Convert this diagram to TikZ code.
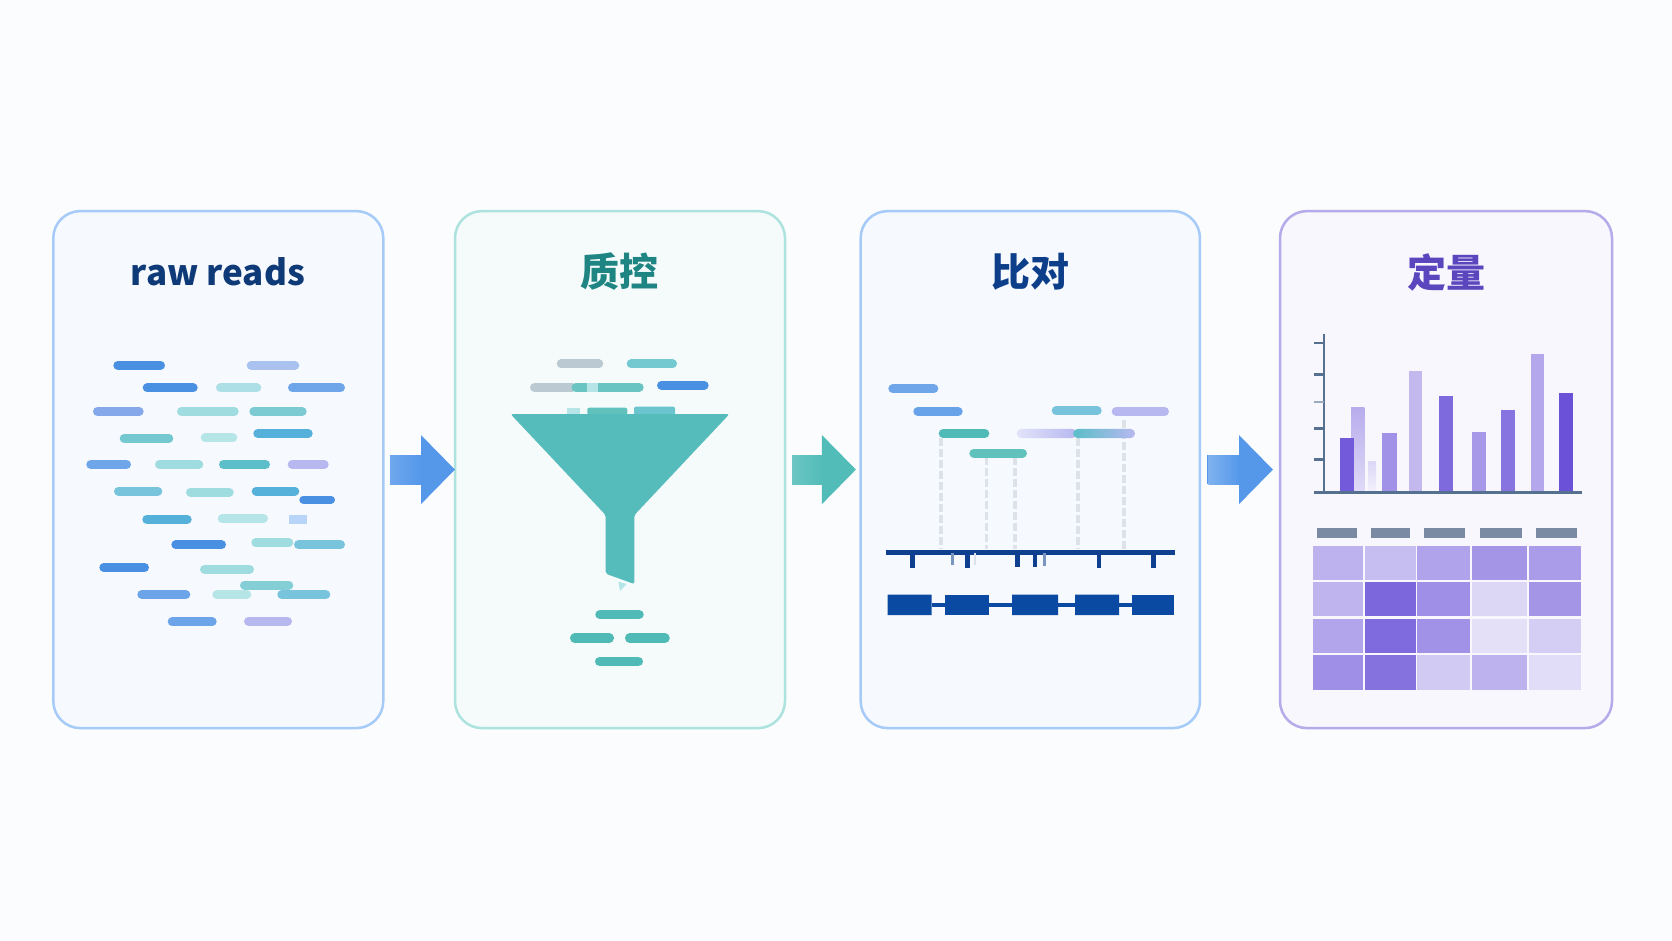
\documentclass[tikz,border=0pt]{standalone}
\usepackage{fontspec}
\setmainfont{Noto Sans}
\newfontfamily\cjk{Noto Sans CJK SC}
\usetikzlibrary{arrows.meta,shapes.misc}
\newlength{\du}
\setlength{\du}{0.5pt}
\definecolor{pagecolor}{HTML}{FBFCFE}
\definecolor{cardblue}{HTML}{F6F9FE}
\definecolor{cardteal}{HTML}{F5FBFB}
\definecolor{cardlilac}{HTML}{F8F7FE}
\definecolor{edgeblue}{HTML}{A6CBF8}
\definecolor{edgeteal}{HTML}{ACE3DF}
\definecolor{edgelilac}{HTML}{B6ABEA}
\definecolor{navytext}{HTML}{0F3A78}
\definecolor{tealtext}{HTML}{1F8583}
\definecolor{royaltext}{HTML}{0D3E8A}
\definecolor{lilactext}{HTML}{5B46BE}
\definecolor{chartlilac}{HTML}{6248D6}
\definecolor{arrowblue}{HTML}{5598EA}
\definecolor{arrowteal}{HTML}{52BCB8}
\definecolor{readblue}{HTML}{4A90E2}
\definecolor{readmid}{HTML}{6FA6EA}
\definecolor{readperi}{HTML}{85A8EA}
\definecolor{readsky}{HTML}{55B0DA}
\definecolor{readcyan}{HTML}{78C4DC}
\definecolor{readteal}{HTML}{5BBEC8}
\definecolor{readaqua}{HTML}{9EDCE0}
\definecolor{readpale}{HTML}{B6E5E8}
\definecolor{readlilac}{HTML}{B7B8F0}
\definecolor{readgrey}{HTML}{BBCAD2}
\definecolor{funnelteal}{HTML}{55BCBB}
\definecolor{keptteal}{HTML}{50BAB6}
\definecolor{guidegrey}{HTML}{DDE1E8}
\definecolor{refnavy}{HTML}{0F3F8F}
\definecolor{exonblue}{HTML}{0A4AA3}
\definecolor{axisslate}{HTML}{56708F}
\definecolor{headslate}{HTML}{7A8AA2}
\tikzset{
  cardbox/.style={rectangle,rounded corners=27\du,line width=2.5\du,inner sep=0pt,outer sep=0pt,minimum width=330\du,minimum height=517\du},
  cardtitle/.style={font=\cjk\fontsize{19.5pt}{24pt}\selectfont\bfseries,inner sep=0pt},
  flowarrow/.style={line width=14.5pt,-{Triangle[length=17pt,width=33.5pt]},shorten <=3.5pt},
  readbar/.style={line width=9\du,line cap=round},
  keptbar/.style={line width=9.5\du,line cap=round,keptteal},
  guideline/.style={line width=3.5\du,guidegrey,dash pattern=on 8\du off 3\du},
  reftick/.style={line width=4.5\du,refnavy},
  exonbox/.style={rectangle,fill=exonblue,inner sep=0pt,outer sep=0pt,minimum height=20.4\du},
  exonchamf/.style={chamfered rectangle,chamfered rectangle corners={north east,south east},chamfered rectangle xsep=2\du,chamfered rectangle ysep=5\du,fill=exonblue,inner sep=0pt,outer sep=0pt,minimum height=20.4\du},
  intronline/.style={line width=4\du,exonblue},
  axisline/.style={line width=2.5\du,axisslate},
  colhead/.style={fill=headslate}
}
\begin{document}
\begin{tikzpicture}[x=\du,y=-\du]
\useasboundingbox (0,0) rectangle (1672,941);
\fill[pagecolor] (0,0) rectangle (1672,941);
% cards
\node[cardbox,draw=edgeblue,fill=cardblue] (rawcard) at (218.3,469.6) {};
\node[cardbox,draw=edgeteal,fill=cardteal] (qccard) at (620,469.6) {};
\node[cardbox,draw=edgeblue,fill=cardblue,minimum width=339.3\du] (aligncard) at (1030.3,469.6) {};
\node[cardbox,draw=edgelilac,fill=cardlilac,minimum width=332\du] (quantcard) at (1446,469.6) {};
\node[cardtitle,navytext,font=\cjk\fontsize{17.5pt}{22pt}\selectfont\bfseries] (rawtitle) at (218,272) {raw reads};
\node[cardtitle,tealtext] (qctitle) at (619.3,272) {质控};
\node[cardtitle,royaltext] (aligntitle) at (1030.7,272) {比对};
\node[cardtitle,lilactext] (quanttitle) at (1446.7,272) {定量};
% arrows
\draw[flowarrow,arrowblue] (rawcard.east) -- (qccard.west);
\shade[left color=arrowblue!85!white,right color=arrowblue] (390,455.1) rectangle (421,484.1);
\draw[flowarrow,arrowteal,shorten >=2.35pt] (qccard.east) -- (aligncard.west);
\shade[left color=arrowteal!85!white,right color=arrowteal] (792,455.1) rectangle (823,484.1);
\draw[flowarrow,arrowblue,shorten >=3.5pt] (aligncard.east) -- (quantcard.west);
\shade[left color=arrowblue!75!white,right color=arrowblue] (1208.3,455.1) rectangle (1239.3,484.1);
% raw reads
\draw[readbar,readblue] (117.8,365.3)--(160.5,365.3);
\draw[readbar,readperi!70!white] (251.2,365.3)--(294.8,365.3);
\draw[readbar,readblue] (147.2,388)--(193.2,388);
\draw[readbar,readpale!85!readcyan] (220.5,388)--(256.8,388);
\draw[readbar,readmid] (292.5,388)--(340.5,388);
\draw[readbar,readperi] (97.5,411.5)--(139.2,411.5);
\draw[readbar,readaqua] (181.5,411.5)--(234.2,411.5);
\draw[readbar,readteal!80!white] (253.8,411.5)--(302.2,411.5);
\draw[readbar,readteal!85!white] (124.2,438.4)--(168.8,438.4);
\draw[readbar,readpale] (205.2,437.6)--(232.8,437.6);
\draw[readbar,readsky] (257.8,433.5)--(308.2,433.5);
\draw[readbar,readmid] (90.8,464.5)--(126.5,464.5);
\draw[readbar,readaqua] (159.5,464.5)--(198.8,464.5);
\draw[readbar,readteal] (223.5,464.5)--(265.5,464.5);
\draw[readbar,readlilac] (292.2,464.5)--(324.2,464.5);
\draw[readbar,readcyan] (118.5,491)--(157.8,491);
\draw[readbar,readaqua] (190.5,492.1)--(229.2,492.1);
\draw[readbar,readsky] (256.2,491)--(294.8,491);
\draw[readbar,readblue,line width=8\du] (303.3,499.6)--(331,499.6);
\draw[readbar,readsky] (146.8,519.3)--(187.2,519.3);
\draw[readbar,readpale] (222.2,518.5)--(263.5,518.5);
\draw[readbar,edgeblue!80!white,line cap=butt] (289.3,519.3)--(306.7,519.3);
\draw[readbar,readblue] (175.8,544.8)--(221.5,544.8);
\draw[readbar,readaqua] (255.8,542.7)--(288.8,542.7);
\draw[readbar,readcyan] (298.5,544.8)--(340.5,544.8);
\draw[readbar,readblue] (103.8,567.5)--(144.5,567.5);
\draw[readbar,readaqua] (204.5,569.2)--(249.5,569.2);
\draw[readbar,readteal!75!white] (244.5,585.1)--(288.8,585.1);
\draw[readbar,readmid!90!readblue] (141.8,594.7)--(185.8,594.7);
\draw[readbar,readpale] (216.8,594.7)--(246.8,594.7);
\draw[readbar,readcyan] (281.8,594.7)--(325.8,594.7);
\draw[readbar,readmid!90!readblue] (172.2,621.8)--(212.2,621.8);
\draw[readbar,readlilac] (248.5,621.2)--(287.5,621.2);
% funnel
\draw[readbar,readgrey] (561.2,364)--(598.8,364);
\draw[readbar,readteal!85!white] (631.2,364)--(672.5,364);
\draw[readbar,readgrey] (534.5,387.3)--(572.2,387.3);
\draw[readbar,keptteal!85!white] (576,387.3)--(639.2,387.3);
\fill[readpale] (587.3,382.9) rectangle (598.3,392.2);
\draw[readbar,readblue] (661.5,385.3)--(704.2,385.3);
\fill[readpale] (567.3,408.2) rectangle (580,414.9);
\fill[keptteal!90!white,rounded corners=2\du] (587.3,407.7) rectangle (627.3,414.9);
\fill[readteal!90!white,rounded corners=2\du] (634,406.6) rectangle (675,414.9);
\fill[readpale] (618.3,581.6) -- (620,590.9) -- (626.7,584) -- cycle;
\fill[funnelteal,rounded corners=2\du] (510.7,414.2) -- (729.3,414.2) -- (634.3,515.1) -- (634.3,584) -- (605.7,573.7) -- (605.7,515.1) -- cycle;
\draw[keptbar] (600,614.6)--(639,614.6);
\draw[keptbar] (574.7,638.1)--(609.3,638.1);
\draw[keptbar] (629.7,638.1)--(665,638.1);
\draw[keptbar] (599.7,661.5)--(638.3,661.5);
% alignment
\draw[guideline] (941,437.6)--(941,549.2);
\draw[guideline] (986.3,457.3)--(986.3,549.2);
\draw[guideline] (1015,457.3)--(1015,549.2);
\draw[guideline] (1078,437.6)--(1078,549.2);
\draw[guideline] (1124,420.1)--(1124,549.2);
\draw[readbar,readmid] (892.8,388.8)--(933.8,388.8);
\draw[readbar,readmid!80!readblue] (917.8,411.5)--(958.2,411.5);
\draw[readbar,readcyan] (1056.2,410.8)--(1097.2,410.8);
\draw[readbar,readlilac] (1116.2,411.5)--(1164.5,411.5);
\draw[readbar,keptteal] (943.2,433.5)--(984.8,433.5);
\shade[rounded corners=4.5\du,left color=readlilac!40!white,right color=readlilac] (1016.7,428.9) rectangle (1076.7,438.1);
\shade[rounded corners=4.5\du,left color=readteal,right color=readlilac] (1073.3,428.9) rectangle (1135,438.1);
\draw[readbar,keptteal!90!white] (973.8,453.1)--(1022.5,453.1);
\draw[line width=5\du,refnavy] (886,552.6)--(1174.7,552.6);
\draw[reftick] (912.7,552.6)--(912.7,567.5);
\draw[reftick,line width=3\du,refnavy!55!white] (952.7,552.6)--(952.7,565);
\draw[reftick] (967.3,552.6)--(967.3,567.5);
\draw[reftick,line width=2\du,refnavy!15!white] (975,552.6)--(975,565);
\draw[reftick] (1017.3,552.6)--(1017.3,566.8);
\draw[reftick] (1035,552.6)--(1035,566.8);
\draw[reftick,line width=3\du,refnavy!55!white] (1044,552.6)--(1044,565.8);
\draw[reftick] (1099,552.6)--(1099,567.5);
\draw[reftick] (1153.3,552.6)--(1153.3,567.5);
\node[exonchamf,minimum width=44\du] (exona) at (909.7,604.8) {};
\node[exonbox,minimum width=43.4\du] (exonb) at (967,604.8) {};
\node[exonchamf,minimum width=46\du] (exonc) at (1035,604.8) {};
\node[exonchamf,minimum width=44\du] (exond) at (1097,604.8) {};
\node[exonbox,minimum width=41.7\du] (exone) at (1153.2,604.8) {};
\draw[intronline] (exona) -- (exonb);
\draw[intronline] (exonb) -- (exonc);
\draw[intronline] (exonc) -- (exond);
\draw[intronline] (exond) -- (exone);
% bar chart
\shade[top color=chartlilac!45!white,bottom color=chartlilac!20!white] (1351,407.7) rectangle (1364.3,492.1);
\fill[chartlilac!90!white] (1340,438.4) rectangle (1354,492.1);
\shade[top color=chartlilac!22!white,bottom color=chartlilac!8!white] (1368.3,461.1) rectangle (1376,492.1);
\fill[chartlilac!60!white] (1382,432.8) rectangle (1396.7,492.1);
\fill[chartlilac!38!white] (1408.7,371.5) rectangle (1422.3,492.1);
\fill[chartlilac!82!white] (1439.3,395.6) rectangle (1453,492.1);
\fill[chartlilac!56!white] (1472,431.7) rectangle (1485.7,492.1);
\fill[chartlilac!76!white] (1501.3,410.1) rectangle (1515.3,492.1);
\fill[chartlilac!48!white] (1530.7,353.6) rectangle (1544,492.1);
\fill[chartlilac!95!white] (1559.3,393.5) rectangle (1572.7,492.1);
\draw[axisline] (1324,333.6)--(1324,492.7);
\draw[axisline] (1314,492.7)--(1582.3,492.7);
\draw[axisline] (1314,342.9)--(1324,342.9);
\draw[axisline] (1314,374.6)--(1324,374.6);
\draw[axisline,axisslate!60!white] (1314,402.2)--(1324,402.2);
\draw[axisline] (1314,428.6)--(1324,428.6);
\draw[axisline] (1314,459.3)--(1324,459.3);
% heat map
\fill[colhead] (1316.7,527.5) rectangle (1357.3,537.8);
\fill[colhead] (1370.7,527.5) rectangle (1410,537.8);
\fill[colhead] (1424.3,527.5) rectangle (1465,537.8);
\fill[colhead] (1480,527.5) rectangle (1521.7,537.8);
\fill[colhead] (1536.3,527.5) rectangle (1576.7,537.8);
\fill[chartlilac!42!white] (1312.7,546.1) rectangle (1363,580.2);
\fill[chartlilac!36!white] (1365,546.1) rectangle (1415.7,580.2);
\fill[chartlilac!50!white] (1417.3,546.1) rectangle (1470,580.2);
\fill[chartlilac!58!white] (1472,546.1) rectangle (1527,580.2);
\fill[chartlilac!54!white] (1529,546.1) rectangle (1581.3,580.2);
\fill[chartlilac!41!white] (1312.7,582.3) rectangle (1363,616.4);
\fill[chartlilac!83!white] (1365,582.3) rectangle (1415.7,616.4);
\fill[chartlilac!61!white] (1417.3,582.3) rectangle (1470,616.4);
\fill[chartlilac!22!white] (1472,582.3) rectangle (1527,616.4);
\fill[chartlilac!58!white] (1529,582.3) rectangle (1581.3,616.4);
\fill[chartlilac!49!white] (1312.7,618.8) rectangle (1363,653.3);
\fill[chartlilac!81!white] (1365,618.8) rectangle (1415.7,653.3);
\fill[chartlilac!60!white] (1417.3,618.8) rectangle (1470,653.3);
\fill[chartlilac!17!white] (1472,618.8) rectangle (1527,653.3);
\fill[chartlilac!27!white] (1529,618.8) rectangle (1581.3,653.3);
\fill[chartlilac!61!white] (1312.7,655.3) rectangle (1363,689.7);
\fill[chartlilac!77!white] (1365,655.3) rectangle (1415.7,689.7);
\fill[chartlilac!29!white] (1417.3,655.3) rectangle (1470,689.7);
\fill[chartlilac!42!white] (1472,655.3) rectangle (1527,689.7);
\fill[chartlilac!19!white] (1529,655.3) rectangle (1581.3,689.7);
\end{tikzpicture}
\end{document}
